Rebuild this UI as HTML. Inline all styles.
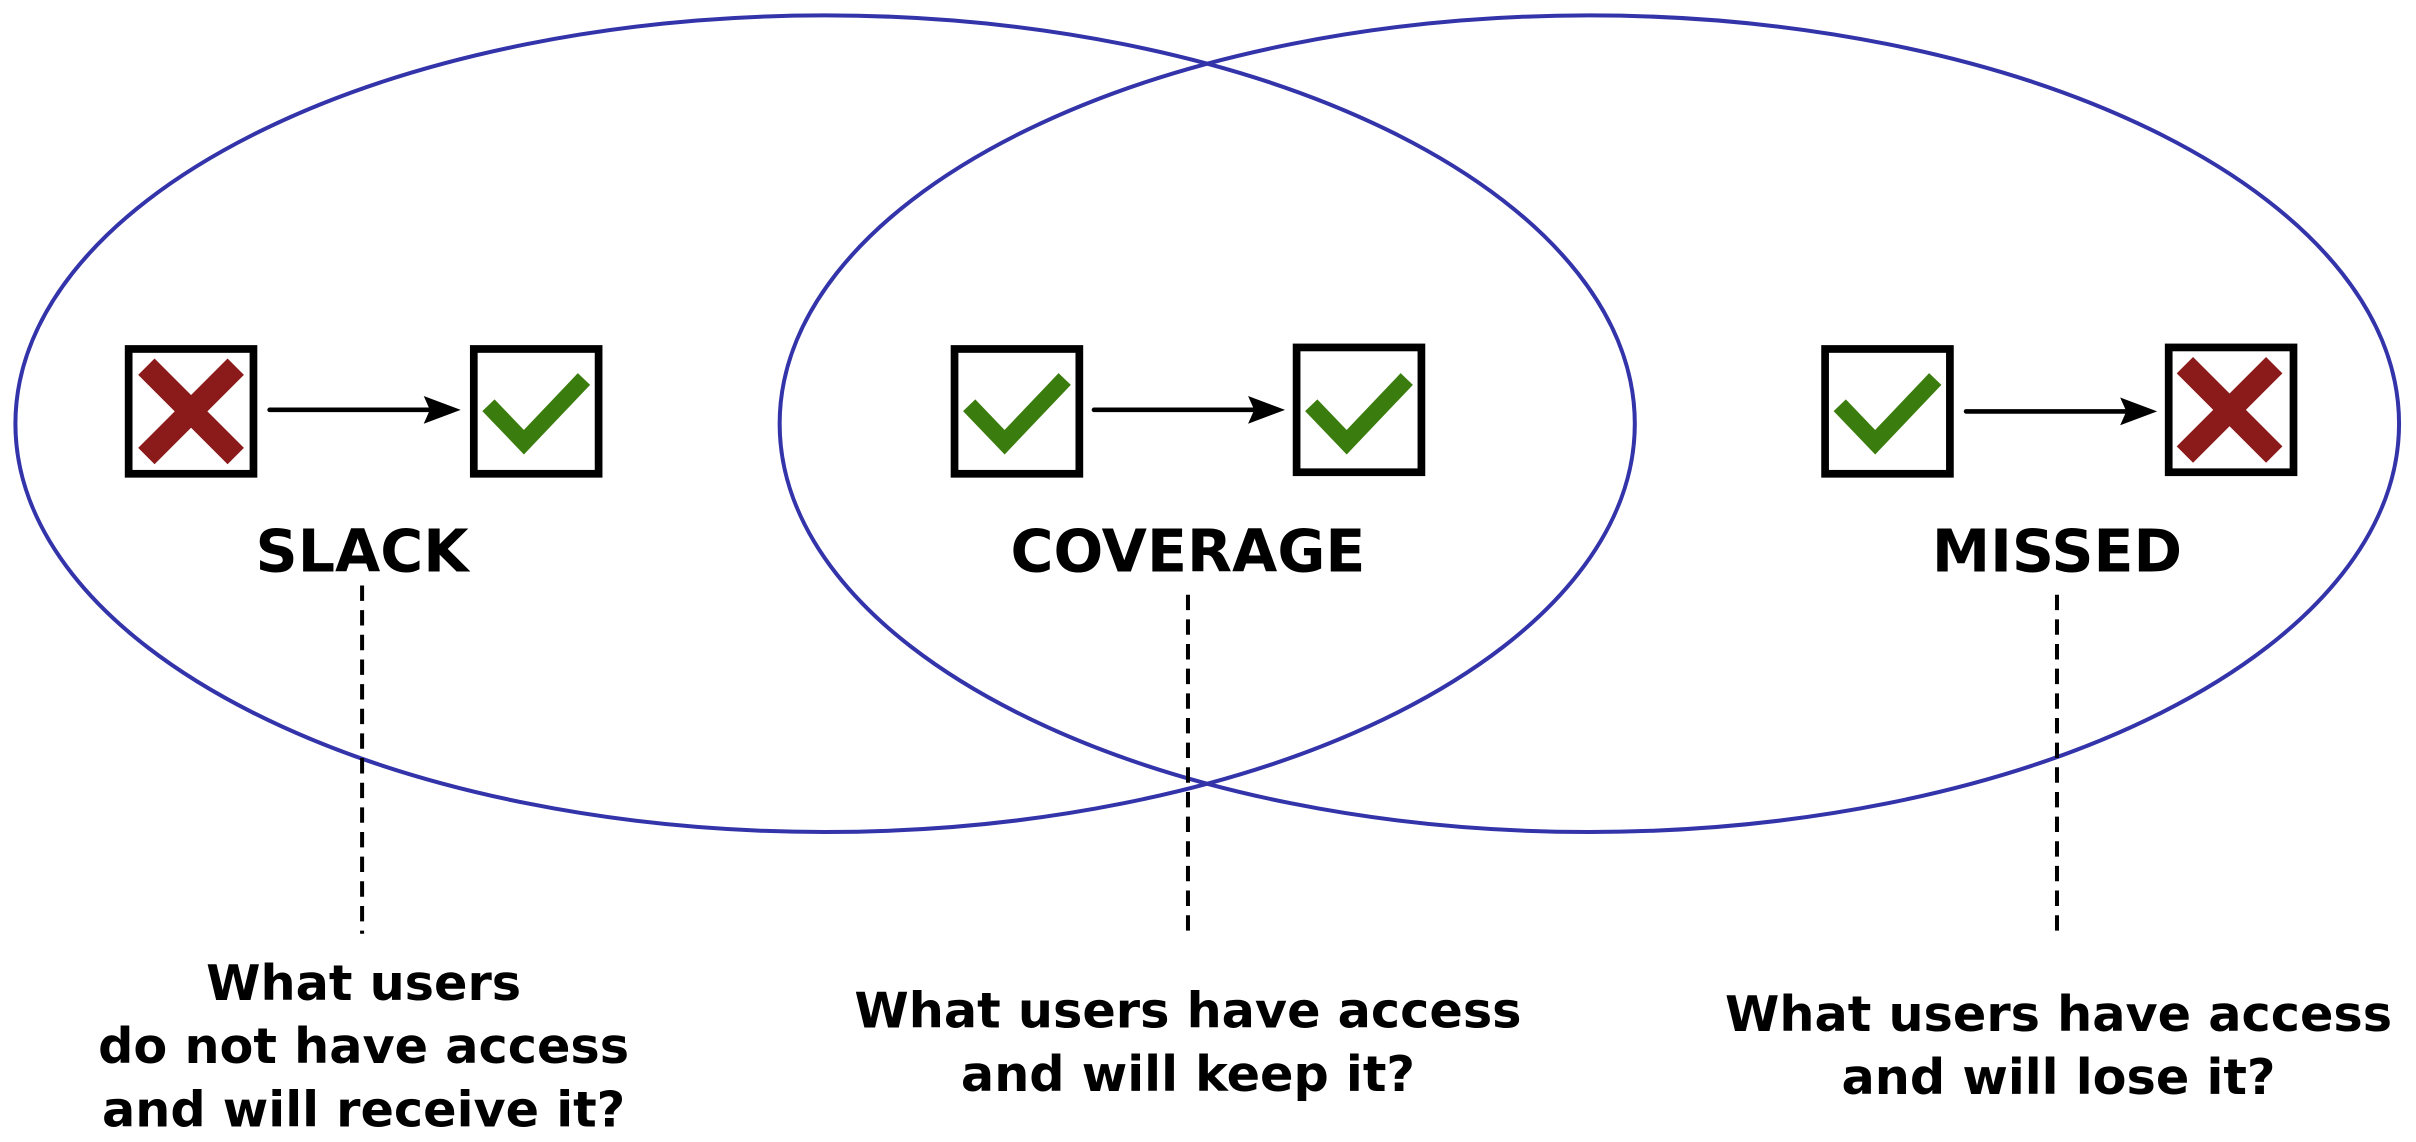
<!DOCTYPE html>
<html><head><meta charset="utf-8"><style>
html,body{margin:0;padding:0;background:#fff;}
svg{display:block;}
text{font-family:"DejaVu Sans","Liberation Sans",sans-serif;font-weight:bold;fill:#000;}
</style></head><body>
<svg width="2416" height="1142" viewBox="0 0 1568 741.2" preserveAspectRatio="none" xmlns="http://www.w3.org/2000/svg">
<defs>
<g id="xm"><path d="M-29,-29 L29,29 M29,-29 L-29,29" stroke="#8b1a1a" stroke-width="15" stroke-linecap="butt"/></g>
<g id="ck"><path d="M-30,-4 L-7,20 L32,-21" stroke="#3a7d0e" stroke-width="11" fill="none" stroke-linecap="butt"/></g>
<g id="ar"><line x1="0" y1="0" x2="110" y2="0" stroke="#000" stroke-width="3" stroke-linecap="round"/><path d="M100,-9 L124,0 L100,9 L104,0 Z" fill="#000"/></g>
</defs>
<ellipse cx="535.5" cy="275" rx="525.5" ry="265" fill="none" stroke="#3333aa" stroke-width="2.6"/>
<ellipse cx="1031.5" cy="275" rx="525.5" ry="265" fill="none" stroke="#3333aa" stroke-width="2.6"/>

<g fill="none" stroke="#000" stroke-width="5">
<rect x="83.5" y="226.5" width="81" height="81"/>
<rect x="307.5" y="226.5" width="81" height="81"/>
<rect x="619.5" y="226.5" width="81" height="81"/>
<rect x="841.5" y="225.5" width="81" height="81"/>
<rect x="1184.5" y="226.5" width="81" height="81"/>
<rect x="1407.5" y="225.5" width="81" height="81"/>
</g>
<use href="#xm" x="124" y="267"/>
<use href="#ck" x="347" y="267"/>
<use href="#ck" x="659" y="267"/>
<use href="#ck" x="881" y="267"/>
<use href="#ck" x="1224" y="267"/>
<use href="#xm" x="1447" y="266"/>

<use href="#ar" x="175" y="266"/>
<use href="#ar" x="710" y="266"/>
<use href="#ar" x="1276" y="267"/>

<g font-size="38" text-anchor="middle">
<text x="235" y="371">SLACK</text>
<text x="771" y="371">COVERAGE</text>
<text x="1335" y="371">MISSED</text>
</g>

<g stroke="#000" stroke-width="2.6" stroke-dasharray="10,6">
<line x1="235" y1="380" x2="235" y2="606"/>
<line x1="771" y1="386" x2="771" y2="610"/>
<line x1="1335" y1="386" x2="1335" y2="610"/>
</g>

<g font-size="32" text-anchor="middle">
<text x="236" y="649">What users</text>
<text x="236" y="690">do not have access</text>
<text x="236" y="731">and will receive it?</text>
<text x="771" y="667">What users have access</text>
<text x="771" y="708">and will keep it?</text>
<text x="1336" y="669">What users have access</text>
<text x="1336" y="710">and will lose it?</text>
</g>
</svg>
</body></html>
